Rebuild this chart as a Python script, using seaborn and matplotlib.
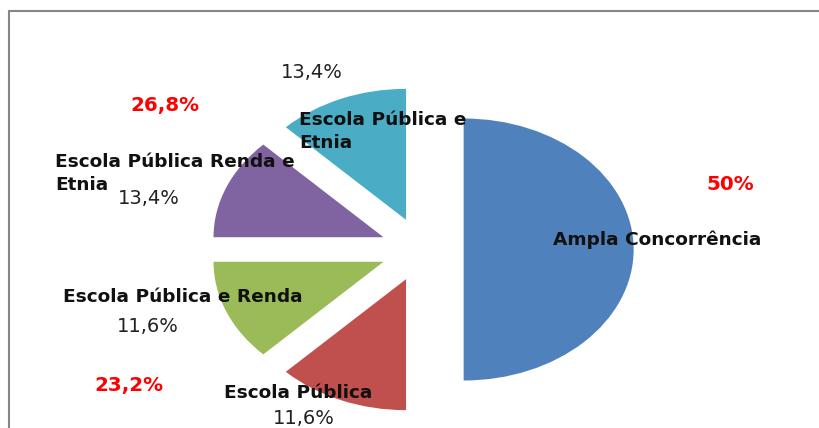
import matplotlib
matplotlib.use("Agg")
import matplotlib.pyplot as plt
from matplotlib.lines import Line2D
import seaborn as sns

# ---- data ----
categories = ["Ampla Concorrência", "Escola Pública", "Escola Pública e Renda",
              "Escola Pública Renda e Etnia", "Escola Pública e Etnia"]
slice_values = [50, 12.5, 12.5, 12.5, 12.5]          # drawn slice sizes
value_labels = ["50%", "11,6%", "11,6%", "13,4%", "13,4%"]
group_labels = ["26,8%", "23,2%"]
colors = ["#4F81BD", "#C0504D", "#9BBB59", "#8064A2", "#4BACC6"]

sns.set_theme(style="white")
plt.rcParams["font.family"] = ["DejaVu Sans"]

W, H = 820, 428
fig = plt.figure(figsize=(W / 100, H / 100), dpi=100)
fig.patch.set_linewidth(0)
ax = fig.add_axes([0, 0, 1, 1])

pal = sns.color_palette(colors)
ax.pie(slice_values, colors=pal, startangle=90, counterclock=False,
       explode=[0.245] * len(slice_values), radius=1.0,
       wedgeprops=dict(linewidth=0))
ax.set_aspect("auto")
# pixel geometry: centre at (422, 249.5), 170 px per unit across, 131 px per unit up
ax.set_xlim(-422 / 170, (W - 422) / 170)
ax.set_ylim(-(H - 249.5) / 131, 249.5 / 131)
ax.axis("off")


def px_text(x, y, s, ha="center", **kw):
    fig.text(x / W, 1 - y / H, s, ha=ha, va="center", **kw)


cat_kw = dict(fontsize=13.3, fontweight="bold", color="#111111")
pct_kw = dict(fontsize=14, color="#222222")
red_kw = dict(fontsize=14.3, fontweight="bold", color="#FF0000")

# category labels (wrapped ones written line by line, as in the chart)
px_text(553, 240, categories[0], ha="left", **cat_kw)
px_text(224, 393, categories[1], ha="left", **cat_kw)
px_text(63, 297, categories[2], ha="left", **cat_kw)
w3 = categories[3].rsplit(" ", 1)
px_text(55, 162, w3[0], ha="left", **cat_kw)
px_text(55, 185, w3[1], ha="left", **cat_kw)
w4 = categories[4].rsplit(" ", 1)
px_text(299, 120, w4[0], ha="left", **cat_kw)
px_text(299, 143, w4[1], ha="left", **cat_kw)

# value labels
px_text(730, 184, value_labels[0], **red_kw)
px_text(304, 418, value_labels[1], **pct_kw)
px_text(148, 327, value_labels[2], **pct_kw)
px_text(149, 198, value_labels[3], **pct_kw)
px_text(312, 72, value_labels[4], **pct_kw)

# group totals
px_text(165, 105, group_labels[0], **red_kw)
px_text(129, 385, group_labels[1], **red_kw)

# chart frame (only top and left edges are visible in the chart)
fig.add_artist(Line2D([8.5 / W, 8.5 / W], [0, 1 - 11 / H], transform=fig.transFigure,
                      color="#868686", lw=1.5))
fig.add_artist(Line2D([8.5 / W, 1.0], [1 - 11 / H, 1 - 11 / H], transform=fig.transFigure,
                      color="#868686", lw=1.5))

fig.savefig("out.png", dpi=100, facecolor="white", edgecolor="none")
